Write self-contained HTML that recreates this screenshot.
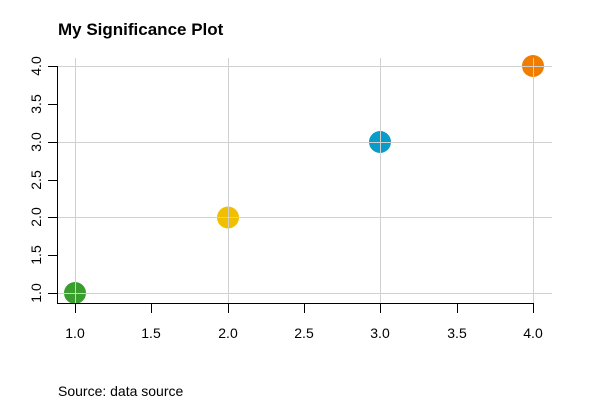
<!DOCTYPE html>
<html><head><style>body{margin:0;background:#fff}</style></head><body>
<svg width="600" height="400" xmlns="http://www.w3.org/2000/svg" font-family="Liberation Sans, sans-serif">
<rect width="600" height="400" fill="#fff"/>
<text x="58" y="35" font-size="17" font-weight="bold" fill="#000">My Significance Plot</text>
<g>
<circle cx="75" cy="293" r="11" fill="#3a9e2f"/>
<circle cx="228" cy="217.5" r="11" fill="#f0c000"/>
<circle cx="380" cy="142" r="11" fill="#0a9cc8"/>
<circle cx="533" cy="66" r="11" fill="#f07d00"/>
</g>
<g stroke="#d0d0d0" stroke-width="1">
<line x1="57" y1="293.5" x2="552" y2="293.5"/>
<line x1="57" y1="217.5" x2="552" y2="217.5"/>
<line x1="57" y1="142.5" x2="552" y2="142.5"/>
<line x1="57" y1="66.5" x2="552" y2="66.5"/>
<line x1="75.5" y1="58" x2="75.5" y2="303"/>
<line x1="228.5" y1="58" x2="228.5" y2="303"/>
<line x1="380.5" y1="58" x2="380.5" y2="303"/>
<line x1="533.5" y1="58" x2="533.5" y2="303"/>
</g>
<g stroke="#000" stroke-width="1">
<line x1="57.5" y1="66" x2="57.5" y2="303.5"/>
<line x1="57" y1="303.5" x2="533" y2="303.5"/>
<line x1="48" y1="293.5" x2="57" y2="293.5"/>
<line x1="48" y1="255.5" x2="57" y2="255.5"/>
<line x1="48" y1="217.5" x2="57" y2="217.5"/>
<line x1="48" y1="180.5" x2="57" y2="180.5"/>
<line x1="48" y1="142.5" x2="57" y2="142.5"/>
<line x1="48" y1="104.5" x2="57" y2="104.5"/>
<line x1="48" y1="66.5" x2="57" y2="66.5"/>
<line x1="75.5" y1="303" x2="75.5" y2="313"/>
<line x1="151.5" y1="303" x2="151.5" y2="313"/>
<line x1="228.5" y1="303" x2="228.5" y2="313"/>
<line x1="304.5" y1="303" x2="304.5" y2="313"/>
<line x1="380.5" y1="303" x2="380.5" y2="313"/>
<line x1="457.5" y1="303" x2="457.5" y2="313"/>
<line x1="533.5" y1="303" x2="533.5" y2="313"/>
</g>
<g font-size="14" fill="#000" text-anchor="middle">
<text x="75" y="338">1.0</text><text x="151" y="338">1.5</text><text x="228" y="338">2.0</text>
<text x="304" y="338">2.5</text><text x="380" y="338">3.0</text><text x="457" y="338">3.5</text><text x="533" y="338">4.0</text>
<text transform="translate(41,293) rotate(-90)">1.0</text>
<text transform="translate(41,255) rotate(-90)">1.5</text>
<text transform="translate(41,217) rotate(-90)">2.0</text>
<text transform="translate(41,180) rotate(-90)">2.5</text>
<text transform="translate(41,142) rotate(-90)">3.0</text>
<text transform="translate(41,104) rotate(-90)">3.5</text>
<text transform="translate(41,66) rotate(-90)">4.0</text>
</g>
<text x="58" y="396" font-size="14" fill="#000">Source: data source</text>
</svg>
</body></html>
